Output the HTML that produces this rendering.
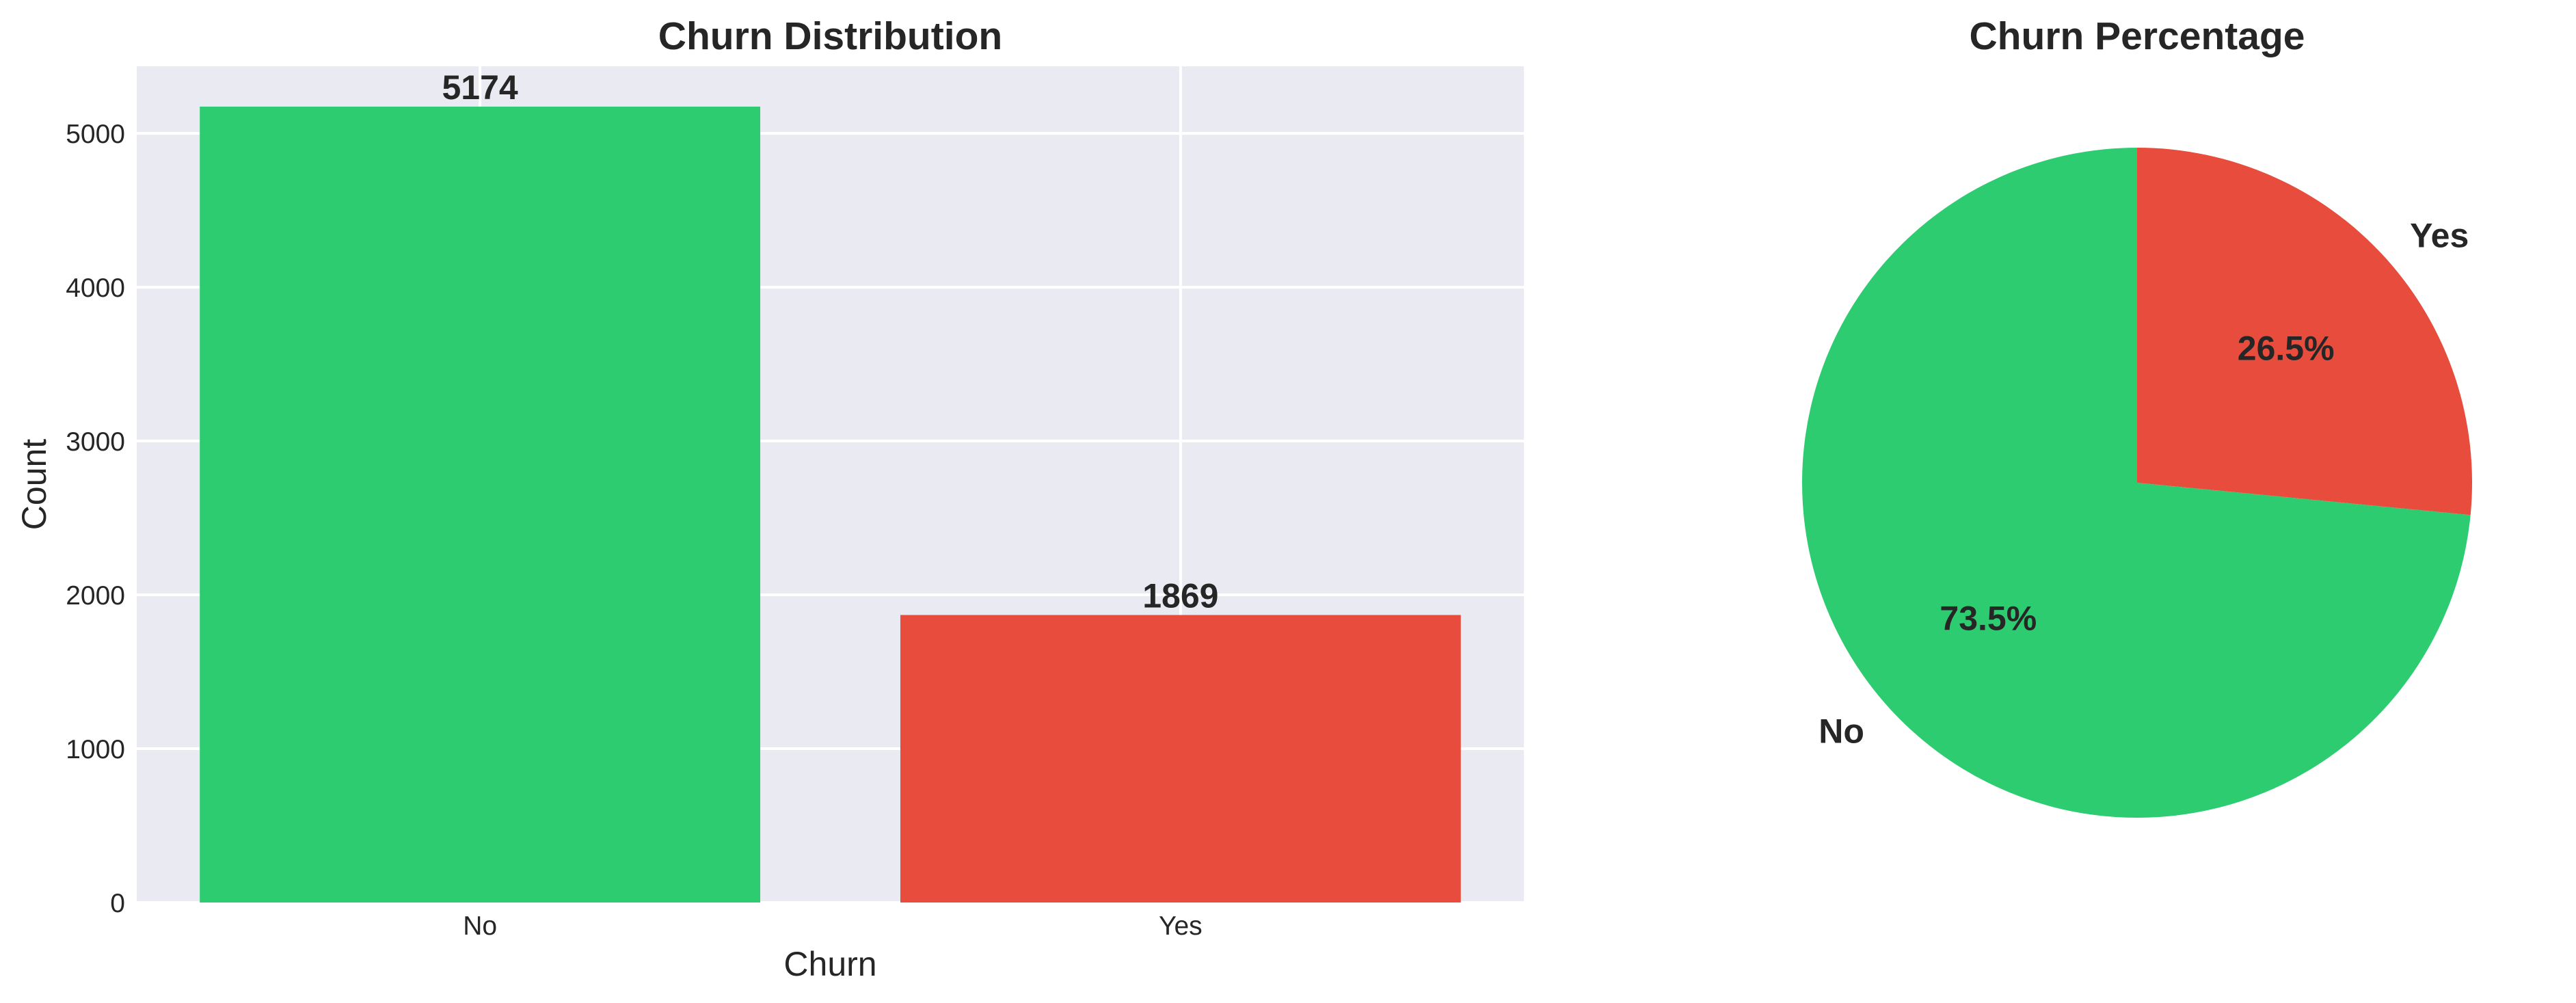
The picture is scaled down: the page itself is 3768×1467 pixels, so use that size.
<!DOCTYPE html>
<html>
<head>
<meta charset="utf-8">
<style>
html,body{margin:0;padding:0;background:#fff;}
svg{display:block;}
text{font-family:"Liberation Sans",Arial,sans-serif;fill:#262626;}
</style>
</head>
<body>
<svg id="fig" width="3768" height="1467" viewBox="0 0 3768 1467" xmlns="http://www.w3.org/2000/svg">
  <g id="bar-chart"></g>
  <g id="pie-chart"></g>
</svg>
<script>
const categories = ["No", "Yes"];
const counts = [5174, 1869];
const yTicks = [0, 1000, 2000, 3000, 4000, 5000];
const barColors = ["#2ecc71", "#e74c3c"];
const pieLabels = ["No", "Yes"];
const pieValues = [5174, 1869];

const NS = "http://www.w3.org/2000/svg";
function mk(tag, attrs, parent, txt) {
  const e = document.createElementNS(NS, tag);
  for (const k in attrs) e.setAttribute(k, attrs[k]);
  if (txt !== undefined) e.textContent = txt;
  parent.appendChild(e);
  return e;
}

// ---- Bar chart ----
const bar = document.getElementById("bar-chart");
const ax = {left: 200, right: 2229, top: 97, bottom: 1320};
const yMax = 5436;
const xMin = -0.49, xMax = 1.49;
const yS = v => ax.bottom - v / yMax * (ax.bottom - ax.top);
const xS = v => ax.left + (v - xMin) / (xMax - xMin) * (ax.right - ax.left);

const bg = mk("rect", {x: ax.left, y: ax.top, width: ax.right - ax.left, height: ax.bottom - ax.top, fill: "#eaeaf2"}, bar);



yTicks.forEach(t => {
  const g = mk("line", {x1: ax.left, x2: ax.right, y1: yS(t), y2: yS(t), stroke: "#fff", "stroke-width": 4}, bar);
  
  
  const l = mk("text", {x: 183, y: yS(t) + 14, "text-anchor": "end", "font-size": 39}, bar, String(t));
  
  
});
categories.forEach((c, i) => {
  const g = mk("line", {x1: xS(i), x2: xS(i), y1: ax.top, y2: ax.bottom, stroke: "#fff", "stroke-width": 4}, bar);
  
  
});
categories.forEach((c, i) => {
  const r = mk("rect", {x: xS(i - 0.4), y: yS(counts[i]), width: xS(i + 0.4) - xS(i - 0.4), height: yS(0) - yS(counts[i]), fill: barColors[i]}, bar);
  
  
  const v = mk("text", {x: xS(i), y: yS(counts[i]) - 11, "text-anchor": "middle", "font-size": 50, "font-weight": "bold"}, bar, String(counts[i]));
  
  
  const tl = mk("text", {x: xS(i), y: 1367, "text-anchor": "middle", "font-size": 39}, bar, c);
  
  
});
const xt = mk("text", {x: (ax.left + ax.right) / 2, y: 1427, "text-anchor": "middle", "font-size": 50}, bar, "Churn");


const yt = mk("text", {x: 0, y: 0, "text-anchor": "middle", "font-size": 50, transform: "translate(67," + ((ax.top + ax.bottom) / 2) + ") rotate(-90)"}, bar, "Count");


const bt = mk("text", {x: (ax.left + ax.right) / 2, y: 72, "text-anchor": "middle", "font-size": 57, "font-weight": "bold"}, bar, "Churn Distribution");



// ---- Pie chart ----
const pie = document.getElementById("pie-chart");
const cx = 3126, cy = 706, R = 490;
const total = pieValues.reduce((a, b) => a + b, 0);
let ang = 90;
pieValues.forEach((v, i) => {
  const sweep = v / total * 360;
  const a0 = ang * Math.PI / 180, a1 = (ang + sweep) * Math.PI / 180;
  const x0 = cx + R * Math.cos(a0), y0 = cy - R * Math.sin(a0);
  const x1 = cx + R * Math.cos(a1), y1 = cy - R * Math.sin(a1);
  const large = sweep > 180 ? 1 : 0;
  const p = mk("path", {d: `M${cx},${cy} L${x0},${y0} A${R},${R} 0 ${large} 0 ${x1},${y1} Z`, fill: barColors[i]}, pie);
  
  
  const mid = (ang + sweep / 2) * Math.PI / 180;
  const lx = cx + 1.1 * R * Math.cos(mid), ly = cy - 1.1 * R * Math.sin(mid);
  const anchor = Math.cos(mid) >= 0 ? "start" : "end";
  const lab = mk("text", {x: lx, y: ly + 18, "text-anchor": anchor, "font-size": 50, "font-weight": "bold"}, pie, pieLabels[i]);
  
  
  const px = cx + 0.6 * R * Math.cos(mid), py = cy - 0.6 * R * Math.sin(mid);
  const pct = mk("text", {x: px, y: py + 18, "text-anchor": "middle", "font-size": 50, "font-weight": "bold"}, pie, (v / total * 100).toFixed(1) + "%");
  
  
  ang += sweep;
});
const pt = mk("text", {x: cx, y: 72, "text-anchor": "middle", "font-size": 57, "font-weight": "bold"}, pie, "Churn Percentage");


</script>
</body>
</html>
